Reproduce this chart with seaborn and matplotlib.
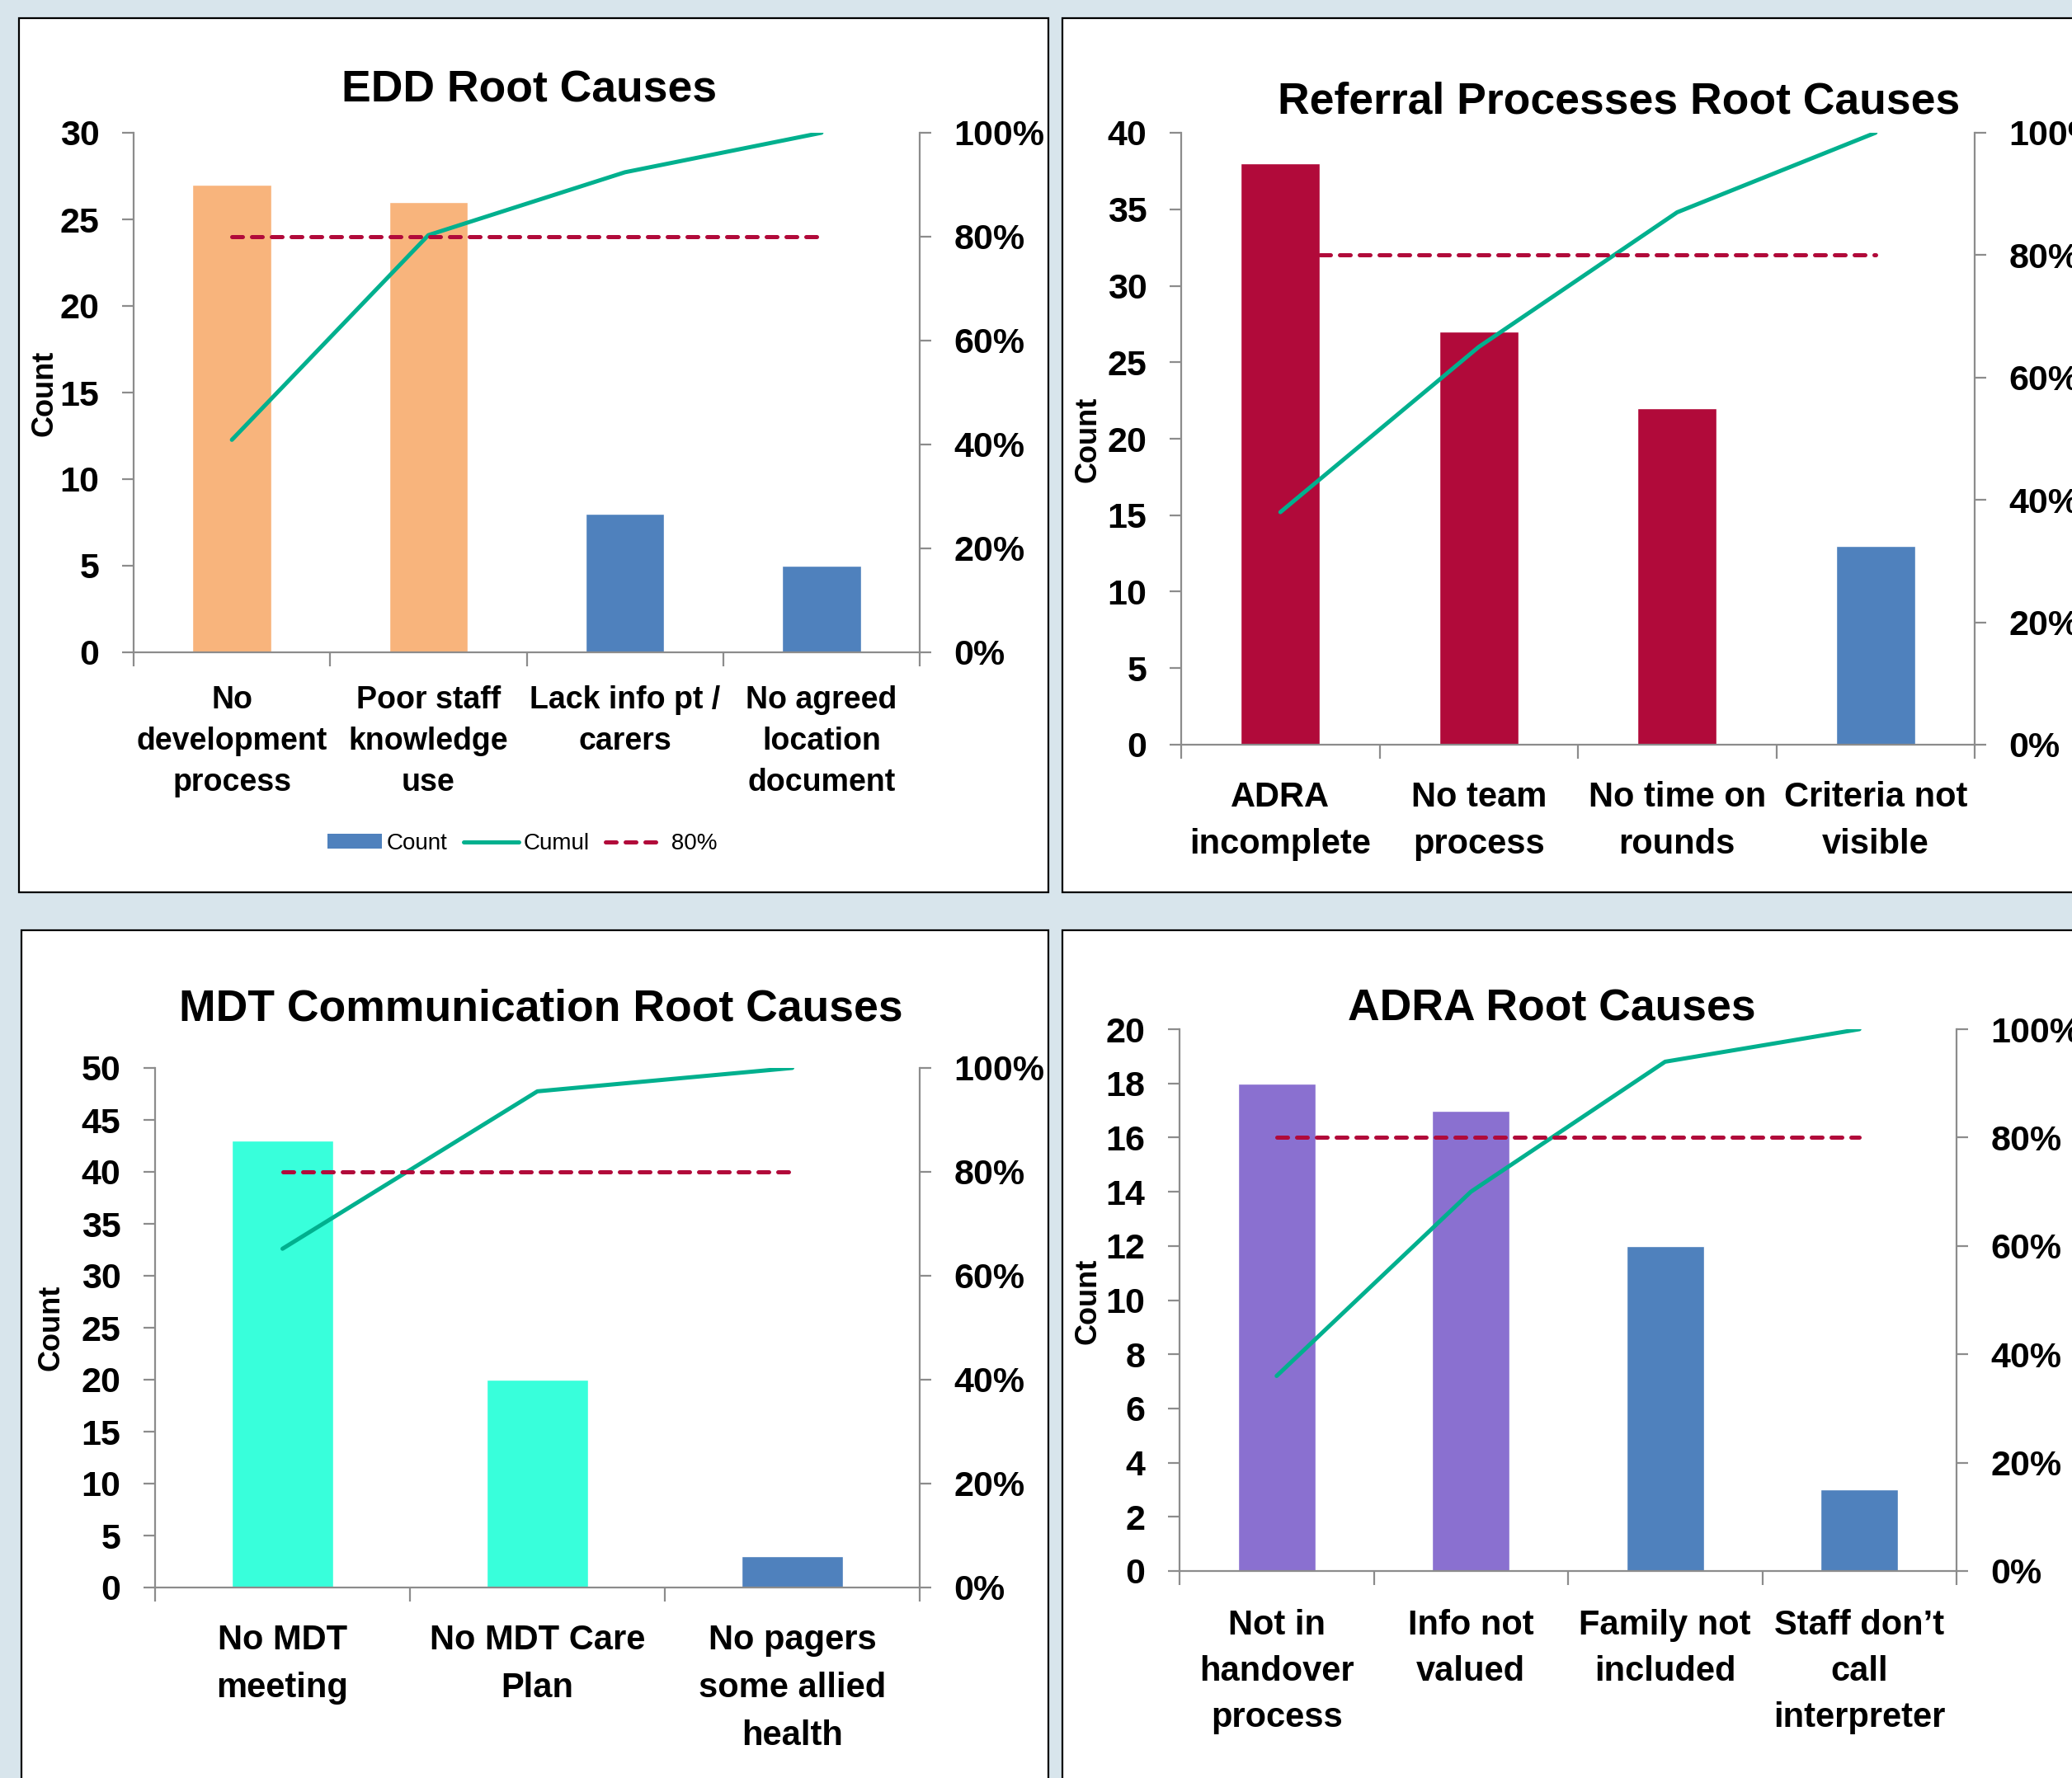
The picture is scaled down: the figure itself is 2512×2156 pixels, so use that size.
import matplotlib
matplotlib.use("Agg")
import matplotlib.pyplot as plt
import seaborn as sns
import numpy as np
from matplotlib.patches import Rectangle, Patch
from matplotlib.lines import Line2D

# ---- data ----
edd_causes = ["No\ndevelopment\nprocess", "Poor staff\nknowledge\nuse",
              "Lack info pt /\ncarers", "No agreed\nlocation\ndocument"]
edd_count = [27, 26, 8, 5]
edd_cumul = [40.9, 80.3, 92.4, 100]

ref_causes = ["ADRA\nincomplete", "No team\nprocess", "No time on\nrounds",
              "Criteria not\nvisible"]
ref_count = [38, 27, 22, 13]
ref_cumul = [38, 65, 87, 100]

mdt_causes = ["No MDT\nmeeting", "No MDT Care\nPlan", "No pagers\nsome allied\nhealth"]
mdt_count = [43, 20, 3]
mdt_cumul = [65.2, 95.5, 100]

adra_causes = ["Not in\nhandover\nprocess", "Info not\nvalued", "Family not\nincluded",
               "Staff don\u2019t\ncall\ninterpreter"]
adra_count = [18, 17, 12, 3]
adra_cumul = [36, 70, 94, 100]

target = 80

BLUE = "#4F81BD"
GREEN = "#00B08E"
RED = "#B10A3A"
GRAY = "#8C8C8C"
LW = 3.6
DASH = (2.6, 2.2)

sns.set_theme(style="white")
plt.rcParams["font.family"] = ["Liberation Sans", "DejaVu Sans"]
plt.rcParams["font.weight"] = "bold"
plt.rcParams["text.color"] = "black"

W, H = 2512, 2156
fig = plt.figure(figsize=(W / 100, H / 100), dpi=100)
fig.patch.set_facecolor("#D8E5EC")

# white chart panels with black frames (pixel coords, top-left origin)
for x0, y0, x1, y1 in [(23, 22, 1271, 1082), (1288, 22, 2540, 1082),
                       (26, 1128, 1271, 2190), (1288, 1128, 2540, 2190)]:
    fig.patches.append(Rectangle((x0 / W, 1 - y1 / H), (x1 - x0) / W, (y1 - y0) / H,
                                 transform=fig.transFigure, facecolor="white",
                                 edgecolor="black", linewidth=1.6, zorder=-5))


def pareto(box, title, title_xy, causes, counts, cumul, colors, ymax, ystep,
           ylabel_xy, lab_size, lab_pad, lab_spacing):
    l, t, r, b = box
    ax = fig.add_axes([l / W, 1 - b / H, (r - l) / W, (b - t) / H])
    ax.patch.set_alpha(0)
    n = len(counts)
    pos = np.arange(n)
    sns.barplot(x=pos, y=counts, hue=pos, palette=colors, width=0.4,
                legend=False, ax=ax, saturation=1)
    ax2 = ax.twinx()
    sns.lineplot(x=pos, y=np.array(cumul) / 100, ax=ax2, color=GREEN, lw=LW,
                 solid_capstyle="round")
    sns.lineplot(x=pos, y=[target / 100] * n, ax=ax2, color=RED, lw=LW)
    ax2.lines[-1].set_dashes(DASH)
    ax2.lines[-1].set_dash_capstyle("round")

    ax.set_xlim(-0.5, n - 0.5)
    ax.set_ylim(0, ymax)
    ax2.set_ylim(0, 1)
    ax.set_yticks(np.arange(0, ymax + 0.1, ystep))
    ax.set_yticklabels([str(int(v)) for v in np.arange(0, ymax + 0.1, ystep)],
                       fontsize=31, fontweight="bold")
    ax2.set_yticks(np.linspace(0, 1, 6))
    ax2.set_yticklabels([f"{int(v)}%" for v in np.linspace(0, 100, 6)],
                        fontsize=31, fontweight="bold")
    ax.set_xticks(pos)
    ax.set_xticklabels(causes, fontsize=lab_size, fontweight="bold",
                       linespacing=lab_spacing)
    ax.set_xticks(np.arange(-0.5, n, 1), minor=True)
    ax.tick_params(axis="x", which="major", length=0, pad=lab_pad, colors="black")
    ax.tick_params(axis="x", which="minor", length=12, width=1.6, color=GRAY,
                   direction="out", bottom=True)
    ax.tick_params(axis="y", length=10, width=1.6, color=GRAY, pad=20,
                   direction="out", left=True, labelcolor="black")
    ax2.tick_params(axis="y", length=10, width=1.6, color=GRAY, pad=20,
                    direction="out", right=True, labelcolor="black")
    ax.set_xlabel("")
    ax.set_ylabel("")
    ax2.set_ylabel("")
    for a in (ax, ax2):
        a.spines["top"].set_visible(False)
        for s in ("left", "right", "bottom"):
            a.spines[s].set_color(GRAY)
            a.spines[s].set_linewidth(1.6)
    ax.spines["right"].set_visible(False)
    ax2.spines["left"].set_visible(False)
    ax2.spines["bottom"].set_visible(False)

    fig.text(title_xy[0] / W, 1 - title_xy[1] / H, title, ha="center",
             va="baseline", fontsize=38.5, fontweight="bold")
    fig.text(ylabel_xy[0] / W, 1 - ylabel_xy[1] / H, "Count", ha="center",
             va="center", rotation=90, fontsize=26, fontweight="bold")
    return ax


ax1 = pareto((162, 161, 1115, 791), "EDD Root Causes", (642, 124),
             edd_causes, edd_count, edd_cumul,
             ["#F8B47C", "#F8B47C", BLUE, BLUE], 30, 5, (54, 477), 27, 29, 1.5)
pareto((1432, 161, 2394, 903), "Referral Processes Root Causes", (1963, 137),
       ref_causes, ref_count, ref_cumul,
       [RED, RED, RED, BLUE], 40, 5, (1319, 533), 30, 32, 1.54)
pareto((188, 1295, 1115, 1925), "MDT Communication Root Causes", (656, 1238),
       mdt_causes, mdt_count, mdt_cumul,
       ["#38FFDB", "#38FFDB", BLUE], 50, 5, (62, 1610), 30, 32, 1.58)
pareto((1430, 1248, 2372, 1905), "ADRA Root Causes", (1881, 1238),
       adra_causes, adra_count, adra_cumul,
       ["#8A70D0", "#8A70D0", BLUE, BLUE], 20, 2, (1319, 1578), 30, 33, 1.52)

handles = [Patch(facecolor=BLUE, edgecolor="none"),
           Line2D([], [], color=GREEN, lw=LW, solid_capstyle="round"),
           Line2D([], [], color=RED, lw=LW, dashes=DASH, dash_capstyle="round")]
fig.legend(handles, ["Count", "Cumul", " 80%"], loc="center",
           bbox_to_anchor=(633 / W, 1 - 1023 / H), ncol=3, frameon=False,
           prop={"size": 20, "weight": "normal"}, handlelength=2.4,
           handleheight=0.6, handletextpad=0.2, columnspacing=0.7)

fig.savefig("out.png", dpi=100, facecolor=fig.get_facecolor())
